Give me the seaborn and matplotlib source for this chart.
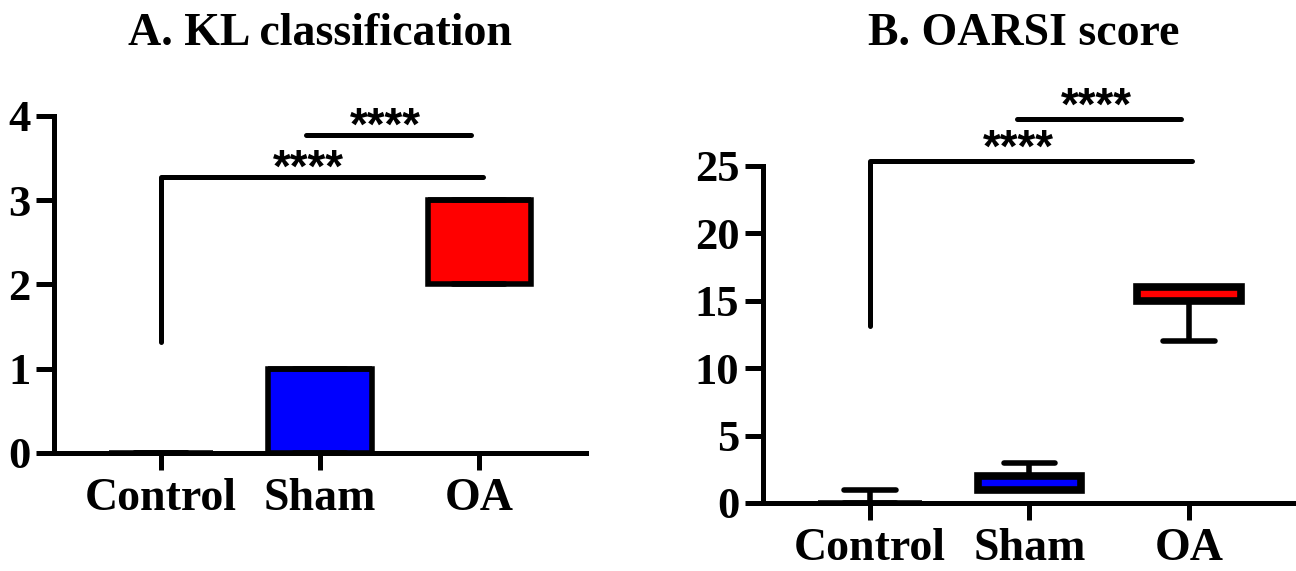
import pandas as pd
import numpy as np
import seaborn as sns
import matplotlib.pyplot as plt

# groups and colours
groups = ["Control", "Sham", "OA"]
box_colors = ["#ffffff", "#0000ff", "#ff0000"]

# KL grade per animal
kl_control = [0, 0, 0, 0, 0, 0, 0, 0, 0]
kl_sham = [0, 0, 0, 1, 1, 1, 1, 1, 1]
kl_oa = [2, 2, 2, 3, 3, 3, 3, 3, 3]

# OARSI score per animal
oarsi_control = [0, 0, 0, 0, 0, 0, 0, 0, 1]
oarsi_sham = [1, 1, 1, 2, 2, 2, 2, 2, 3]
oarsi_oa = [12, 15, 15, 16, 16, 16, 16, 16, 16]

kl_ticks = [0, 1, 2, 3, 4]
oarsi_ticks = [0, 5, 10, 15, 20, 25]
stars = "****"


def long_df(a, b, c):
    return pd.DataFrame({
        "group": ["Control"] * len(a) + ["Sham"] * len(b) + ["OA"] * len(c),
        "value": a + b + c,
    })


def bracket(ax, x1, x2, y, leg_y, text_x, text_y):
    xs = [x1, x2] if leg_y is None else [x1, x1, x2]
    ys = [y, y] if leg_y is None else [leg_y, y, y]
    ax.plot(xs, ys, color="black", lw=3.6, clip_on=False, solid_capstyle="round")
    ax.text(text_x, text_y, stars, ha="center", va="baseline", fontsize=33,
            family="Liberation Sans", fontweight="bold", color="black",
            clip_on=False)


sns.set_style("ticks")
plt.rcParams["font.family"] = ["Liberation Serif", "DejaVu Serif"]
plt.rcParams["font.weight"] = "bold"
plt.rcParams["text.color"] = "black"
plt.rcParams["axes.edgecolor"] = "black"
plt.rcParams["xtick.color"] = "black"
plt.rcParams["ytick.color"] = "black"

fig = plt.figure(figsize=(12.96, 5.71), dpi=100)
ax1 = fig.add_axes([0.0417, 0.2067, 0.4105, 0.5902])
ax2 = fig.add_axes([0.5887, 0.1191, 0.4113, 0.5902])

panels = [
    (ax1, long_df(kl_control, kl_sham, kl_oa), kl_ticks, 4, 4),
    (ax2, long_df(oarsi_control, oarsi_sham, oarsi_oa), oarsi_ticks, 4, 5.5),
]

for ax, df, ticks, lw, box_lw in panels:
    sns.boxplot(data=df, x="group", y="value", hue="group", order=groups,
                hue_order=groups, palette=box_colors, width=0.65, whis=(0, 100),
                linewidth=lw, linecolor="black", saturation=1, showfliers=False,
                boxprops={"linewidth": box_lw}, legend=False, ax=ax)
    # the control group collapses to a thin line at zero
    ax.patches[0].set_linewidth(2.2)
    ax.set_xlim(-0.67, 2.67)
    ax.set_ylim(ticks[0], ticks[-1])
    ax.set_yticks(ticks)
    ax.set_xlabel("")
    ax.set_ylabel("")
    sns.despine(ax=ax)
    for side in ["left", "bottom"]:
        ax.spines[side].set_linewidth(3.6)
    ax.tick_params(axis="y", length=13, width=3.6, pad=4, labelsize=32,
                   colors="black")
    ax.tick_params(axis="x", length=12, width=3.6, pad=6, labelsize=33,
                   colors="black")

bracket(ax1, 0, 2.02, 3.27, 1.32, 0.93, 3.22)
bracket(ax1, 0.91, 1.95, 3.77, None, 1.41, 3.72)
bracket(ax2, 0, 2.02, 25.4, 13.1, 0.93, 25.3)
bracket(ax2, 0.92, 1.95, 28.5, None, 1.42, 28.4)

fig.text(320 / 1296, 1 - 45 / 571, "A. KL classification", ha="center",
         va="baseline", fontsize=33, fontweight="bold")
fig.text(1024 / 1296, 1 - 45 / 571, "B. OARSI score", ha="center",
         va="baseline", fontsize=33, fontweight="bold")

fig.savefig("out.png", dpi=100)
